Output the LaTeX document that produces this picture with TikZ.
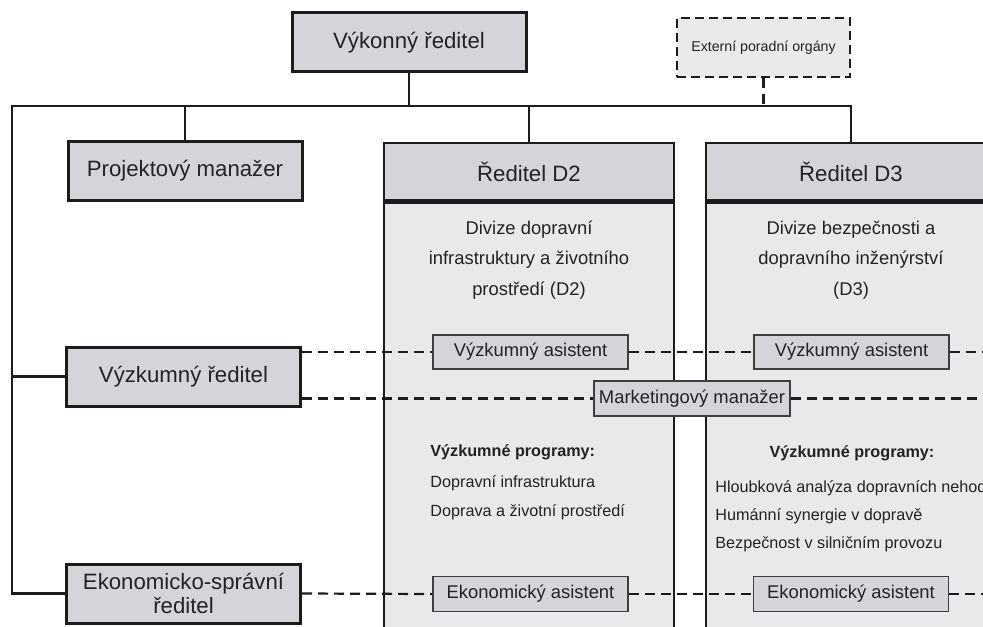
\documentclass[tikz,border=0pt]{standalone}
\usepackage{fontspec}
\setmainfont{Liberation Sans}
\usetikzlibrary{positioning}
\definecolor{boxfill}{RGB}{211,213,217}
\definecolor{panelfill}{RGB}{232,233,235}
\definecolor{ink}{RGB}{28,28,28}
\definecolor{edgegray}{RGB}{62,62,62}
\definecolor{txt}{RGB}{35,35,35}
\begin{document}
\begin{tikzpicture}[x=0.5pt, y=-0.5pt,
  role/.style     = {draw=ink, line width=1.5pt, fill=boxfill, minimum width=117pt, minimum height=29.5pt,
                     inner sep=0pt, align=center, text=txt, font=\fontsize{11.1}{11.6}\selectfont},
  advisory/.style = {draw=ink, line width=1.4pt, dash pattern=on 4.5pt off 2.5pt, fill=panelfill,
                     minimum width=86.5pt, minimum height=29.5pt, inner sep=0pt, text=txt, font=\fontsize{7.1}{8.5}\selectfont},
  divhead/.style  = {role, line width=1.3pt, minimum width=145pt, minimum height=28.5pt},
  divbody/.style  = {draw=ink, line width=1.3pt, fill=panelfill, minimum width=145pt, minimum height=216pt, inner sep=0pt},
  staff/.style    = {draw=edgegray, line width=0.8pt, fill=boxfill, minimum width=97.5pt, minimum height=17pt,
                     inner sep=0pt, text=txt, font=\fontsize{9.2}{11}\selectfont},
  desc/.style     = {align=center, text=txt, font=\fontsize{9.2}{15.3}\selectfont},
  prog/.style     = {align=left, text=txt, inner sep=0pt, font=\fontsize{8.1}{14.5}\selectfont},
  conn/.style     = {draw=ink, line width=1.1pt},
  link/.style     = {draw=ink, line width=1.1pt, dash pattern=on 5pt off 3pt}
]
\useasboundingbox (0,0) rectangle (983,626);
\clip (0,0) rectangle (983,626);

\node[role]     (ceo) at (409,42.5)   {Výkonný ředitel};
\node[advisory] (ext) at (763.5,47.5) {Externí poradní orgány};
\node[role]     (pm)  at (185,171)    {Projektový manažer};
\node[role]     (vr)  at (183.5,376.5) {Výzkumný ředitel};
\node[role]     (er)  at (183.5,593.5) {Ekonomicko-správní\\ředitel};

\node[divhead] (d2head) at (529,171.5) {Ředitel D2};
\node[divbody, anchor=north] (d2body) at (d2head.south) {};
\node[divhead] (d3head) at (851,171.5) {Ředitel D3};
\node[divbody, anchor=north] (d3body) at (d3head.south) {};

\node[desc] (desc2) at (529,260) {Divize dopravní\\infrastruktury a životního\\prostředí (D2)};
\node[desc] (desc3) at (851,260) {Divize bezpečnosti a\\dopravního inženýrství\\(D3)};

\node[prog, anchor=north west] (prog2) at (430,444)
  {\textbf{Výzkumné programy:}\\[1pt]Dopravní infrastruktura\\Doprava a životní prostředí};
\node[prog, font=\bfseries\fontsize{8.1}{14.5}\selectfont] (prog3head) at (852,453) {Výzkumné programy:};
\node[prog, anchor=north west, font=\fontsize{8.1}{14}\selectfont] (prog3) at (715,480)
  {Hloubková analýza dopravních nehod\\Humánní synergie v dopravě\\Bezpečnost v silničním provozu};

\node[staff] (va2) at (530.5,352) {Výzkumný asistent};
\node[staff] (va3) at (851.5,352) {Výzkumný asistent};
\node[staff, minimum width=98pt, minimum height=17.5pt] (mm) at (692,398.5) {Marketingový manažer};
\node[staff, minimum height=17.5pt] (ea2) at (530.5,594) {Ekonomický asistent};
\node[staff, minimum height=17.5pt] (ea3) at (851,594) {Ekonomický asistent};

\coordinate (spine) at (12,106);
\coordinate (edgeR) at (990,0);

\draw[conn] (ceo.south) -- (ceo.south |- spine);
\draw[conn] (er.west) -| (spine) -| (d3head.north);
\draw[conn] (vr.west) -- (vr.west -| spine);
\draw[conn] (spine -| pm.north) -- (pm.north);
\draw[conn] (spine -| d2head.north) -- (d2head.north);
\draw[link] (ext.south) -- (ext.south |- spine);

\draw[link] (vr.east |- va2.west) -- (va2.west);
\draw[link] (va2.east) -- (va3.west);
\draw[link] (va3.east) -- (va3.east -| edgeR);
\draw[link] (vr.east |- mm.west) -- (mm.west);
\draw[link] (mm.east) -- (mm.east -| edgeR);
\draw[link] (er.east) -- (ea2.west);
\draw[link] (ea2.east) -- (ea3.west);
\draw[link] (ea3.east) -- (ea3.east -| edgeR);
\end{tikzpicture}
\end{document}
